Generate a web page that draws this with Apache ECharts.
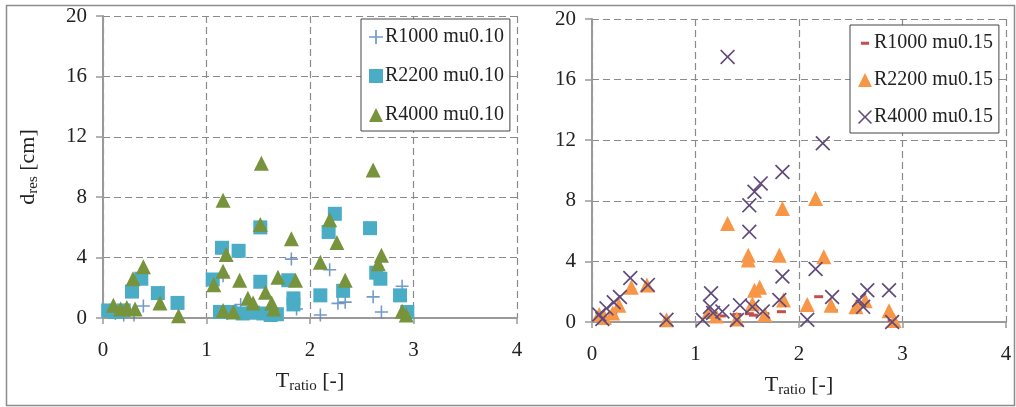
<!DOCTYPE html>
<html lang="en">
<head>
<meta charset="UTF-8">
<title>d_res vs T_ratio</title>
<script src="https://cdn.jsdelivr.net/npm/echarts@6/dist/echarts.min.js"></script>
<style>
    html, body { margin: 0; padding: 0; background: #fff; }
    #main { width: 1016px; height: 407px; }
</style>
</head>
<body>
<div id="main"></div>
<script type="text/javascript">
    // tick labels
    const xTicks = [0, 1, 2, 3, 4];
    const yTicks = [0, 4, 8, 12, 16, 20];

    // left panel, mu = 0.10  [T_ratio, d_res]
    const r1000mu010 = [[0.12, 0.3], [0.2, 0.2], [0.3, 0.2], [0.39, 0.8], [1.16, 2.8], [1.2, 0.3], [1.33, 0.9],
        [1.42, 0.5], [1.6, 0.3], [1.82, 3.9], [1.87, 0.6], [2.1, 0.2], [2.19, 3.2], [2.27, 0.97], [2.34, 1.05],
        [2.61, 1.4], [2.69, 0.4], [2.89, 2.1]];
    const r2200mu010 = [[0.05, 0.5], [0.12, 0.4], [0.2, 0.5], [0.28, 1.75], [0.37, 2.6], [0.53, 1.65], [0.72, 1.0],
        [1.06, 2.55], [1.13, 0.4], [1.15, 4.65], [1.23, 0.4], [1.31, 4.45], [1.35, 0.3], [1.45, 0.35], [1.52, 6.0],
        [1.52, 2.4], [1.55, 0.3], [1.62, 0.2], [1.68, 0.25], [1.79, 2.5], [1.84, 1.3], [1.84, 0.9], [2.1, 1.5],
        [2.18, 5.7], [2.24, 6.9], [2.32, 1.8], [2.58, 5.95], [2.64, 3.0], [2.68, 2.6], [2.87, 1.5], [2.94, 0.4]];
    const r4000mu010 = [[0.1, 0.85], [0.17, 0.6], [0.23, 0.7], [0.31, 0.6], [0.29, 2.6], [0.39, 3.4], [0.55, 1.0],
        [0.73, 0.15], [1.07, 2.2], [1.16, 3.1], [1.16, 7.8], [1.16, 0.5], [1.19, 4.2], [1.26, 0.4], [1.32, 2.5],
        [1.4, 1.3], [1.45, 1.0], [1.53, 10.25], [1.52, 6.2], [1.57, 1.7], [1.63, 1.0], [1.65, 0.6], [1.69, 2.7],
        [1.82, 5.25], [1.86, 2.5], [2.1, 3.7], [2.19, 6.5], [2.26, 5.0], [2.34, 2.5], [2.61, 9.8], [2.66, 3.6],
        [2.69, 4.15], [2.89, 0.45], [2.93, 0.2]];

    // right panel, mu = 0.15
    const r1000mu015 = [[0.1, 0.3], [0.2, 0.6], [0.38, 2.1], [1.15, 0.5], [1.25, 0.4], [1.4, 0.5], [1.52, 0.55],
        [1.56, 0.45], [1.67, 0.55], [1.83, 0.68], [2.19, 1.67], [2.33, 0.75], [2.62, 1.2], [2.9, 0.1]];
    const r2200mu015 = [[0.07, 0.5], [0.12, 0.3], [0.2, 0.6], [0.26, 1.1], [0.38, 2.3], [0.53, 2.45], [0.72, 0.15],
        [1.13, 0.7], [1.2, 0.4], [1.31, 6.5], [1.4, 0.2], [1.51, 4.4], [1.51, 4.1], [1.55, 1.2], [1.57, 2.1],
        [1.62, 2.3], [1.67, 0.5], [1.81, 4.4], [1.84, 7.5], [1.85, 1.45], [2.08, 1.15], [2.16, 8.15], [2.24, 4.3],
        [2.31, 1.1], [2.55, 1.0], [2.64, 1.4], [2.87, 0.75], [2.92, 0.1]];
    const r4000mu015 = [[0.07, 0.5], [0.1, 0.2], [0.14, 0.9], [0.21, 1.3], [0.27, 1.65], [0.37, 2.9], [0.54, 2.45],
        [0.72, 0.15], [1.07, 0.15], [1.14, 1.0], [1.15, 1.9], [1.17, 0.6], [1.26, 0.7], [1.31, 17.5], [1.4, 0.13],
        [1.43, 1.1], [1.52, 5.95], [1.52, 7.7], [1.55, 1.0], [1.57, 8.6], [1.63, 9.15], [1.65, 0.7], [1.81, 1.45],
        [1.84, 3.0], [1.84, 9.9], [2.08, 0.15], [2.16, 3.5], [2.23, 11.8], [2.32, 1.65], [2.58, 1.45], [2.62, 1.0],
        [2.66, 2.1], [2.87, 2.1], [2.9, 0.0]];

    const serif = 'Liberation Serif';
    const plusPath = 'path://M4.4,0H5.6V4.4H10V5.6H5.6V10H4.4V5.6H0V4.4H4.4Z';
    const crossPath = 'path://M0,0.8L0.8,0L5,4.2L9.2,0L10,0.8L5.8,5L10,9.2L9.2,10L5,5.8L0.8,10L0,9.2L4.2,5Z';
    const dashIcon = 'path://M0,0H0.01V0.01H0Z M1.5,5H8.5V7.4H1.5Z M9.99,11.99H10V12H9.99Z';

    const nameRich = {
        t: { fontFamily: serif, fontSize: 22, color: '#222' },
        s: { fontFamily: serif, fontSize: 15, color: '#222', padding: [10, 0, 0, 0] }
    };

    function xAxisFor(i) {
        return {
            gridIndex: i, type: 'value',
            min: xTicks[0], max: xTicks[xTicks.length - 1], interval: 1,
            name: '{t|T}{s|ratio}{t| [-]}', nameLocation: 'middle', nameGap: 51,
            nameTextStyle: { rich: nameRich },
            axisLine: { lineStyle: { color: '#9a9a9a', width: 2 } },
            axisTick: { length: 6, lineStyle: { color: '#9a9a9a', width: 1.5 } },
            axisLabel: { fontFamily: serif, fontSize: 21, color: '#222', margin: 22 },
            splitLine: { lineStyle: { color: '#8a8a8a', width: 1.2, type: [7, 4] } }
        };
    }
    function yAxisFor(i, withName) {
        const ax = {
            gridIndex: i, type: 'value',
            min: yTicks[0], max: yTicks[yTicks.length - 1], interval: 4,
            axisLine: { show: true, lineStyle: { color: '#9a9a9a', width: 2 } },
            axisTick: { show: true, length: 7, lineStyle: { color: '#9a9a9a', width: 1.5 } },
            axisLabel: { fontFamily: serif, fontSize: 21, color: '#222', margin: 16 },
            splitLine: { lineStyle: { color: '#8a8a8a', width: 1.2, type: [7, 4] } }
        };
        if (withName) {
            ax.name = '{t|d}{s|res}{t| [cm]}';
            ax.nameLocation = 'middle';
            ax.nameRotate = 90;
            ax.nameGap = 62;
            ax.nameTextStyle = { rich: nameRich };
        }
        return ax;
    }

    function legendAt(left, top, items, gap) {
        return {
            left: left, top: top, orient: 'vertical', data: items,
            backgroundColor: '#fff', borderColor: '#444', borderWidth: 1,
            padding: [8, 6, 6, 8], itemGap: gap, itemWidth: 14, itemHeight: 14,
            selectedMode: false,
            textStyle: { fontFamily: serif, fontSize: 20, color: '#222', padding: [0, 0, 0, -3] }
        };
    }

    const chart = echarts.init(document.getElementById('main'));
    chart.setOption({
        animation: false,
        backgroundColor: '#fff',
        grid: [
            { left: 103, top: 16, width: 414, height: 302 },
            { left: 592, top: 19, width: 414, height: 303 }
        ],
        xAxis: [xAxisFor(0), xAxisFor(1)],
        yAxis: [yAxisFor(0, true), yAxisFor(1, false)],
        legend: [
            legendAt(361, 19, ['R1000 mu0.10', 'R2200 mu0.10', 'R4000 mu0.10'], 19),
            legendAt(850, 25, [{ name: 'R1000 mu0.15', icon: dashIcon }, 'R2200 mu0.15', 'R4000 mu0.15'], 17)
        ],
        graphic: [{
            type: 'rect', left: 4, top: 3, silent: true,
            shape: { width: 1008, height: 400 },
            style: { fill: 'none', stroke: '#8c8c8c', lineWidth: 1.5 }
        }],
        series: [
            { name: 'R1000 mu0.10', type: 'scatter', xAxisIndex: 0, yAxisIndex: 0, data: r1000mu010,
              symbol: plusPath, symbolSize: 13, itemStyle: { color: '#4f81bd' } },
            { name: 'R2200 mu0.10', type: 'scatter', xAxisIndex: 0, yAxisIndex: 0, data: r2200mu010,
              symbol: 'rect', symbolSize: 14, itemStyle: { color: '#4bacc6', opacity: 1 } },
            { name: 'R4000 mu0.10', type: 'scatter', xAxisIndex: 0, yAxisIndex: 0, data: r4000mu010,
              symbol: 'triangle', symbolSize: 15, itemStyle: { color: '#77933c', opacity: 1 } },
            { name: 'R1000 mu0.15', type: 'scatter', xAxisIndex: 1, yAxisIndex: 1, data: r1000mu015,
              symbol: 'rect', symbolSize: [9, 3], itemStyle: { color: '#c0504d', opacity: 1 } },
            { name: 'R2200 mu0.15', type: 'scatter', xAxisIndex: 1, yAxisIndex: 1, data: r2200mu015,
              symbol: 'triangle', symbolSize: 15, itemStyle: { color: '#f79646', opacity: 1 } },
            { name: 'R4000 mu0.15', type: 'scatter', xAxisIndex: 1, yAxisIndex: 1, data: r4000mu015,
              symbol: crossPath, symbolSize: 15, itemStyle: { color: '#604a7b', opacity: 1 } }
        ]
    });
</script>
</body>
</html>
